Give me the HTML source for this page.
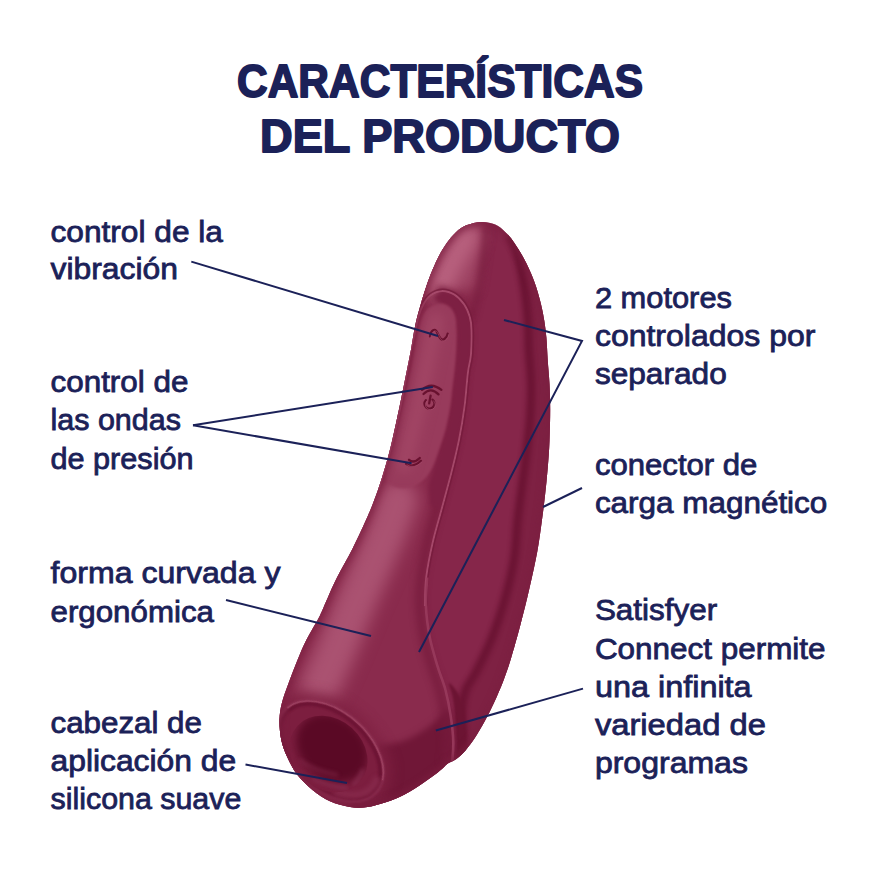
<!DOCTYPE html>
<html><head><meta charset="utf-8">
<style>
html,body{margin:0;padding:0;background:#fff;}
body{width:880px;height:880px;overflow:hidden;font-family:"Liberation Sans",sans-serif;}
svg{display:block;}
text{font-family:"Liberation Sans",sans-serif;fill:#1b2158;}
text.b{font-size:30px;stroke:#1b2158;stroke-width:0.8px;}
text.t{font-size:47px;font-weight:bold;stroke:#1b2158;stroke-width:1.8px;stroke-linejoin:round;}
.ln path{stroke:#1b2158;stroke-width:2;fill:none;}
</style></head>
<body>
<svg width="880" height="880" viewBox="0 0 880 880">
<defs>
<clipPath id="holeclip"><ellipse transform="translate(328.5,754) rotate(42)" rx="42" ry="35"/></clipPath>
<clipPath id="panelclip"><path d="M440.0,303.8 C443.7,303.6 447.5,305.4 450.0,307.5 C452.5,309.6 453.9,312.6 455.0,316.3 C456.1,320.1 456.1,324.4 456.3,330.0 C456.5,335.6 456.3,343.3 456.0,350.0 C455.7,356.7 455.1,363.3 454.4,370.0 C453.7,376.7 452.6,384.3 452.0,390.0 C451.4,395.7 451.5,397.8 450.5,404.0 C449.5,410.2 447.9,419.4 446.0,427.0 C444.1,434.6 441.5,442.3 439.0,449.5 C436.5,456.7 434.0,464.6 431.0,470.0 C428.0,475.4 425.0,479.0 421.0,482.0 C417.0,485.0 411.3,487.2 407.0,488.0 C402.7,488.8 398.3,488.2 395.0,487.0 C391.7,485.8 388.6,483.8 387.0,481.0 C385.4,478.2 385.2,474.3 385.7,470.0 C386.2,465.7 388.5,460.3 390.0,455.0 C391.5,449.7 393.3,443.7 394.8,438.0 C396.3,432.3 397.6,426.7 399.0,421.0 C400.4,415.3 402.0,409.7 403.3,404.0 C404.6,398.3 405.8,392.7 407.0,387.0 C408.2,381.3 409.5,375.8 410.7,370.0 C411.9,364.2 412.9,358.0 414.0,352.0 C415.1,346.0 416.2,339.5 417.5,334.0 C418.8,328.5 419.8,323.2 421.5,319.0 C423.2,314.8 424.9,311.0 428.0,308.5 C431.1,306.0 436.3,304.0 440.0,303.8Z"/></clipPath>
<clipPath id="ringin"><path d="M378.0,488.0 C379.3,483.7 383.3,471.3 386.0,462.0 C388.7,452.7 391.7,441.7 394.0,432.0 C396.3,422.3 398.2,413.1 400.0,404.0 C401.8,394.9 403.3,386.5 405.0,377.5 C406.7,368.5 408.5,357.5 410.0,350.0 C411.5,342.5 412.6,338.1 413.8,332.5 C415.1,326.9 416.1,321.1 417.5,316.3 C418.9,311.5 420.4,307.5 422.5,303.8 C424.6,300.1 426.7,296.7 430.0,294.4 C433.3,292.1 438.3,290.1 442.5,290.0 C446.7,289.9 451.2,291.5 455.0,293.8 C458.8,296.1 462.4,300.1 465.0,303.8 C467.6,307.6 469.4,311.9 470.6,316.3 C471.9,320.7 472.3,323.6 472.5,330.0 C472.7,336.4 472.5,347.9 471.9,355.0 C471.3,362.1 470.0,364.1 468.9,372.7 C467.8,381.3 467.0,395.4 465.5,406.8 C464.0,418.2 462.1,429.6 459.8,441.0 C457.5,452.4 454.7,463.7 451.8,475.0 C448.9,486.3 445.7,497.7 442.7,509.0 C439.7,520.3 436.2,531.6 433.6,543.0 C431.0,554.4 428.5,567.0 427.2,577.5 C425.9,588.0 426.1,601.2 425.9,606.0 L300,620Z"/></clipPath>
<clipPath id="ringout"><path clip-rule="evenodd" d="M0,0 H880 V880 H0Z M378.0,488.0 C379.3,483.7 383.3,471.3 386.0,462.0 C388.7,452.7 391.7,441.7 394.0,432.0 C396.3,422.3 398.2,413.1 400.0,404.0 C401.8,394.9 403.3,386.5 405.0,377.5 C406.7,368.5 408.5,357.5 410.0,350.0 C411.5,342.5 412.6,338.1 413.8,332.5 C415.1,326.9 416.1,321.1 417.5,316.3 C418.9,311.5 420.4,307.5 422.5,303.8 C424.6,300.1 426.7,296.7 430.0,294.4 C433.3,292.1 438.3,290.1 442.5,290.0 C446.7,289.9 451.2,291.5 455.0,293.8 C458.8,296.1 462.4,300.1 465.0,303.8 C467.6,307.6 469.4,311.9 470.6,316.3 C471.9,320.7 472.3,323.6 472.5,330.0 C472.7,336.4 472.5,347.9 471.9,355.0 C471.3,362.1 470.0,364.1 468.9,372.7 C467.8,381.3 467.0,395.4 465.5,406.8 C464.0,418.2 462.1,429.6 459.8,441.0 C457.5,452.4 454.7,463.7 451.8,475.0 C448.9,486.3 445.7,497.7 442.7,509.0 C439.7,520.3 436.2,531.6 433.6,543.0 C431.0,554.4 428.5,567.0 427.2,577.5 C425.9,588.0 426.1,601.2 425.9,606.0 L300,620Z"/></clipPath>
<clipPath id="bodyclip"><path d="M481.6,221.9 C486.4,221.8 491.2,222.8 495.2,224.5 C499.2,226.2 502.4,229.2 505.5,232.2 C508.6,235.2 511.2,238.4 514.0,242.4 C516.8,246.4 519.8,251.2 522.5,256.0 C525.2,260.8 527.9,266.3 530.2,271.4 C532.5,276.5 534.3,281.3 536.1,286.7 C537.9,292.1 539.5,298.1 540.9,303.8 C542.3,309.5 543.4,315.1 544.3,320.8 C545.2,326.5 545.8,331.3 546.4,337.8 C547.0,344.3 547.2,352.3 547.7,360.0 C548.2,367.7 549.1,375.8 549.5,384.0 C549.9,392.2 550.2,399.5 550.2,409.0 C550.2,418.5 549.9,431.1 549.5,441.0 C549.1,450.9 548.5,459.1 547.7,468.2 C547.0,477.3 546.0,486.4 545.0,495.5 C544.0,504.6 542.9,513.4 541.6,522.7 C540.3,532.0 539.3,540.5 537.3,551.4 C535.3,562.3 532.3,575.8 529.5,588.0 C526.7,600.2 523.6,612.8 520.5,624.5 C517.4,636.2 513.9,649.1 511.0,658.5 C508.1,667.9 506.2,673.3 503.4,680.7 C500.5,688.1 497.1,696.1 493.9,703.0 C490.7,709.9 487.5,716.2 484.3,722.0 C481.1,727.8 478.0,733.2 474.8,738.0 C471.6,742.8 468.4,747.1 465.2,750.7 C462.0,754.3 458.6,757.3 455.7,759.4 C452.8,761.5 449.7,762.0 447.7,763.4 C445.7,764.8 445.6,765.6 443.5,767.5 C441.4,769.4 439.1,771.5 435.0,774.5 C430.9,777.5 424.9,782.0 419.1,785.7 C413.3,789.4 405.7,794.0 400.0,796.8 C394.3,799.6 390.4,800.8 385.0,802.5 C379.6,804.2 373.3,806.2 367.5,807.0 C361.7,807.8 356.2,808.0 350.0,807.0 C343.8,806.0 336.2,804.1 330.0,801.3 C323.8,798.5 317.9,794.4 312.5,790.0 C307.1,785.6 301.7,780.4 297.5,775.0 C293.3,769.6 290.2,763.3 287.5,757.5 C284.8,751.7 282.6,746.2 281.3,740.0 C280.0,733.8 279.4,726.2 279.5,720.0 C279.6,713.8 280.4,708.8 282.0,702.5 C283.6,696.2 286.2,689.6 288.8,682.5 C291.4,675.4 294.6,667.1 297.5,660.0 C300.4,652.9 302.6,647.4 306.3,640.0 C310.1,632.6 316.9,621.5 320.0,615.4 C323.1,609.3 322.4,609.9 325.2,603.6 C328.0,597.3 332.4,586.6 337.0,577.5 C341.6,568.4 347.7,558.4 352.5,548.8 C357.3,539.2 362.5,527.8 366.0,520.0 C369.5,512.2 370.8,509.1 373.4,502.3 C376.0,495.6 378.8,487.8 381.4,479.5 C384.0,471.2 386.9,461.8 389.3,452.3 C391.8,442.8 394.0,432.2 396.1,422.7 C398.2,413.2 400.1,403.8 401.8,395.5 C403.5,387.2 404.9,380.3 406.4,372.7 C407.9,365.1 409.4,357.8 410.9,350.0 C412.3,342.2 413.7,332.8 415.1,325.9 C416.5,319.0 417.8,314.6 419.4,308.9 C421.0,303.2 422.6,297.5 424.5,291.8 C426.4,286.1 428.2,280.5 430.5,274.8 C432.8,269.1 435.4,263.0 438.1,257.7 C440.8,252.4 443.6,247.4 446.6,243.2 C449.6,238.9 452.7,235.2 456.0,232.2 C459.3,229.2 461.9,227.0 466.2,225.3 C470.5,223.6 476.8,222.0 481.6,221.9Z"/></clipPath>
<linearGradient id="gmain" x1="0" y1="0" x2="1" y2="0">
<stop offset="0" stop-color="#8c2b4c"/><stop offset="0.3" stop-color="#9a3b5b"/><stop offset="0.6" stop-color="#85254a"/><stop offset="1" stop-color="#74193a"/>
</linearGradient>
<radialGradient id="ghole" cx="0.5" cy="0.3" r="0.75">
<stop offset="0" stop-color="#5a0925"/><stop offset="0.55" stop-color="#640e2c"/><stop offset="1" stop-color="#7e2243"/>
</radialGradient>
<filter id="b8" filterUnits="userSpaceOnUse" x="-900" y="-900" width="2700" height="2700"><feGaussianBlur color-interpolation-filters="sRGB" stdDeviation="8"/></filter>
<filter id="b2" filterUnits="userSpaceOnUse" x="-900" y="-900" width="2700" height="2700"><feGaussianBlur color-interpolation-filters="sRGB" stdDeviation="2"/></filter>
<linearGradient id="gring" gradientUnits="userSpaceOnUse" x1="400" y1="400" x2="470" y2="412">
<stop offset="0" stop-color="#993d5d"/><stop offset="0.55" stop-color="#8c2e4f"/><stop offset="0.75" stop-color="#7c2042"/><stop offset="1" stop-color="#7a1e40"/>
</linearGradient>
<filter id="b4" filterUnits="userSpaceOnUse" x="-900" y="-900" width="2700" height="2700"><feGaussianBlur color-interpolation-filters="sRGB" stdDeviation="4"/></filter>
<filter id="b05" filterUnits="userSpaceOnUse" x="-900" y="-900" width="2700" height="2700"><feGaussianBlur color-interpolation-filters="sRGB" stdDeviation="0.6"/></filter>
<filter id="b6" filterUnits="userSpaceOnUse" x="-900" y="-900" width="2700" height="2700"><feGaussianBlur color-interpolation-filters="sRGB" stdDeviation="6"/></filter>
<filter id="b12" filterUnits="userSpaceOnUse" x="-900" y="-900" width="2700" height="2700"><feGaussianBlur color-interpolation-filters="sRGB" stdDeviation="12"/></filter>
<filter id="b3" filterUnits="userSpaceOnUse" x="-900" y="-900" width="2700" height="2700"><feGaussianBlur color-interpolation-filters="sRGB" stdDeviation="3"/></filter>
<filter id="b1" filterUnits="userSpaceOnUse" x="-900" y="-900" width="2700" height="2700"><feGaussianBlur color-interpolation-filters="sRGB" stdDeviation="1.2"/></filter>
</defs>
<!--BODY-->
<g clip-path="url(#bodyclip)">
<rect x="270" y="210" width="300" height="610" fill="#86264a"/>

<path d="M508.0,236.0 C509.0,238.3 512.2,244.4 514.0,250.0 C515.8,255.6 517.5,262.2 519.0,269.7 C520.5,277.2 522.1,286.7 523.3,295.2 C524.4,303.7 525.3,311.7 525.9,320.8 C526.5,329.9 526.3,339.5 526.8,350.0 C527.3,360.5 528.8,372.7 529.0,384.0 C529.2,395.3 528.8,406.7 528.0,418.0 C527.2,429.3 525.8,440.7 524.5,452.0 C523.2,463.3 521.5,474.6 520.0,486.0 C518.5,497.4 516.8,508.3 515.5,520.5 C514.2,532.7 514.1,546.0 512.0,559.0 C509.9,572.0 506.7,585.3 503.0,598.4 C499.3,611.5 494.8,625.4 490.0,637.6 C485.2,649.8 478.5,663.0 474.2,671.6 C469.9,680.2 466.4,682.9 464.0,689.0 C461.6,695.1 460.6,701.3 460.0,708.0 C459.4,714.7 460.3,722.8 460.5,729.0 C460.7,735.2 461.2,738.5 461.3,745.0 C461.4,751.5 461.1,764.2 461.0,768.0 L461,830 L600,830 L600,200 L508,200Z" fill="#7e2143"/>
<path d="M508.0,236.0 C509.0,238.3 512.2,244.4 514.0,250.0 C515.8,255.6 517.5,262.2 519.0,269.7 C520.5,277.2 522.1,286.7 523.3,295.2 C524.4,303.7 525.3,311.7 525.9,320.8 C526.5,329.9 526.3,339.5 526.8,350.0 C527.3,360.5 528.8,372.7 529.0,384.0 C529.2,395.3 528.8,406.7 528.0,418.0 C527.2,429.3 525.8,440.7 524.5,452.0 C523.2,463.3 521.5,474.6 520.0,486.0 C518.5,497.4 516.8,508.3 515.5,520.5 C514.2,532.7 514.1,546.0 512.0,559.0 C509.9,572.0 506.7,585.3 503.0,598.4 C499.3,611.5 494.8,625.4 490.0,637.6 C485.2,649.8 478.5,663.0 474.2,671.6 C469.9,680.2 466.4,682.9 464.0,689.0 C461.6,695.1 460.6,701.3 460.0,708.0 C459.4,714.7 460.3,722.8 460.5,729.0 C460.7,735.2 461.2,738.5 461.3,745.0 C461.4,751.5 461.1,764.2 461.0,768.0" fill="none" stroke="#6c1434" stroke-width="9" filter="url(#b2)" opacity="0.95" transform="translate(2,0)"/>
<path d="M442.5,290.0 C444.6,290.6 451.2,291.5 455.0,293.8 C458.8,296.1 462.4,300.1 465.0,303.8 C467.6,307.6 469.4,311.9 470.6,316.3 C471.9,320.7 472.3,323.6 472.5,330.0 C472.7,336.4 472.5,347.9 471.9,355.0 C471.3,362.1 470.0,364.1 468.9,372.7 C467.8,381.3 467.0,395.4 465.5,406.8 C464.0,418.2 462.1,429.6 459.8,441.0 C457.5,452.4 454.7,463.7 451.8,475.0 C448.9,486.3 445.7,497.7 442.7,509.0 C439.7,520.3 436.2,531.6 433.6,543.0 C431.0,554.4 428.5,567.0 427.2,577.5 C425.9,588.0 425.5,596.0 425.9,606.0 C426.3,616.0 427.9,627.5 429.8,637.6 C431.8,647.7 435.0,657.7 437.6,666.4 C440.2,675.1 443.3,681.7 445.5,690.0 C447.7,698.3 449.4,707.3 450.7,716.0 C452.0,724.7 453.1,733.8 453.3,742.0 C453.5,750.2 452.2,761.2 452.0,765.0 L452,830 L250,830 L250,200 L442.5,200Z" fill="#8a2b4d"/>
<path d="M442.0,290.0 L455.0,294.0 L465.0,304.0 L471.0,318.0 L476.0,296.0 L481.0,268.0 L486.0,240.0 L486.0,215.0 L425.0,215.0 L410.0,300.0 L425.0,300.0Z" fill="#8a2b4d" filter="url(#b3)"/>
<path d="M435,287 L476,290 L480,262 L484,231 L466,222 L445,240 L428,272 L420,300Z" fill="#9c4161" filter="url(#b6)"/>
<path d="M468.0,236.0 C465.3,240.3 456.7,253.3 452.0,262.0 C447.3,270.7 442.0,283.7 440.0,288.0" fill="none" stroke="#b9627f" stroke-width="24" stroke-linecap="round" filter="url(#b8)"/>
<path d="M486,226 C485,250 482,275 477,296 C475,305 473,312 472,318" fill="none" stroke="#741a3b" stroke-width="6" filter="url(#b3)" opacity="0.6"/>
<path d="M398.0,500.0 C396.2,505.0 391.3,519.2 387.0,530.0 C382.7,540.8 377.5,552.3 372.0,565.0 C366.5,577.7 360.0,591.8 354.0,606.0 C348.0,620.2 341.7,636.7 336.0,650.0 C330.3,663.3 322.7,680.0 320.0,686.0" fill="none" stroke="#aa5271" stroke-width="40" stroke-linecap="round" filter="url(#b8)"/>
<!-- bottom darkening -->
<path d="M370.0,745.0 C373.3,744.8 383.7,745.0 390.0,744.0 C396.3,743.0 401.8,741.7 408.0,739.0 C414.2,736.3 421.7,731.7 427.0,728.0 C432.3,724.3 436.3,720.7 440.0,717.0 C443.7,713.3 447.5,707.8 449.0,706.0 L452,720 L455,760 L455,830 L340,830Z" fill="#701737" filter="url(#b3)"/>
<path d="M449.0,683.0 C448.0,683.2 451.1,689.8 452.0,694.0 C452.9,698.2 453.9,702.2 454.5,708.0 C455.1,713.8 455.5,722.8 455.8,729.0 C456.1,735.2 456.4,738.2 456.5,745.0 C456.6,751.8 454.8,765.8 456.5,770.0 C458.2,774.2 464.8,774.2 466.5,770.0 C468.2,765.8 466.7,752.2 466.5,745.0 C466.3,737.8 466.0,733.2 465.5,727.0 C465.0,720.8 464.8,713.7 463.5,708.0 C462.2,702.3 460.4,697.2 458.0,693.0 C455.6,688.8 450.0,682.8 449.0,683.0Z" fill="#6c1433" filter="url(#b1)"/>
<path d="M442.5,290.0 C444.6,290.6 451.2,291.5 455.0,293.8 C458.8,296.1 462.4,300.1 465.0,303.8 C467.6,307.6 469.4,311.9 470.6,316.3 C471.9,320.7 472.3,323.6 472.5,330.0 C472.7,336.4 472.5,347.9 471.9,355.0 C471.3,362.1 470.0,364.1 468.9,372.7 C467.8,381.3 467.0,395.4 465.5,406.8 C464.0,418.2 462.1,429.6 459.8,441.0 C457.5,452.4 454.7,463.7 451.8,475.0 C448.9,486.3 445.7,497.7 442.7,509.0 C439.7,520.3 436.2,531.6 433.6,543.0 C431.0,554.4 428.5,567.0 427.2,577.5 C425.9,588.0 425.5,596.0 425.9,606.0 C426.3,616.0 427.9,627.5 429.8,637.6 C431.8,647.7 435.0,657.7 437.6,666.4 C440.2,675.1 443.3,681.7 445.5,690.0 C447.7,698.3 449.4,707.3 450.7,716.0 C452.0,724.7 453.1,733.8 453.3,742.0 C453.5,750.2 452.2,761.2 452.0,765.0" fill="none" stroke="#761b3c" stroke-width="10" filter="url(#b3)" transform="translate(-6,0)" opacity="0.7"/>
<path d="M442.5,290.0 L455.0,293.8 L465.0,303.8 L470.6,316.3 L472.5,330.0 L471.9,355.0 L468.9,372.7 L465.5,406.8 L459.8,441.0 L451.8,475.0 L442.7,509.0 L430.0,506.0 L428.0,486.0 L434.0,466.0 L439.0,449.5 L446.0,427.0 L450.5,404.0 L454.4,370.0 L456.0,350.0 L456.3,330.0 L455.0,316.3 L450.0,307.5 L440.0,303.8 L432.0,298.0Z" fill="#7d2043" filter="url(#b2)"/>
<path d="M440.0,303.8 C443.7,303.6 447.5,305.4 450.0,307.5 C452.5,309.6 453.9,312.6 455.0,316.3 C456.1,320.1 456.1,324.4 456.3,330.0 C456.5,335.6 456.3,343.3 456.0,350.0 C455.7,356.7 455.1,363.3 454.4,370.0 C453.7,376.7 452.6,384.3 452.0,390.0 C451.4,395.7 451.5,397.8 450.5,404.0 C449.5,410.2 447.9,419.4 446.0,427.0 C444.1,434.6 441.5,442.3 439.0,449.5 C436.5,456.7 434.0,464.6 431.0,470.0 C428.0,475.4 425.0,479.0 421.0,482.0 C417.0,485.0 411.3,487.2 407.0,488.0 C402.7,488.8 398.3,488.2 395.0,487.0 C391.7,485.8 388.6,483.8 387.0,481.0 C385.4,478.2 385.2,474.3 385.7,470.0 C386.2,465.7 388.5,460.3 390.0,455.0 C391.5,449.7 393.3,443.7 394.8,438.0 C396.3,432.3 397.6,426.7 399.0,421.0 C400.4,415.3 402.0,409.7 403.3,404.0 C404.6,398.3 405.8,392.7 407.0,387.0 C408.2,381.3 409.5,375.8 410.7,370.0 C411.9,364.2 412.9,358.0 414.0,352.0 C415.1,346.0 416.2,339.5 417.5,334.0 C418.8,328.5 419.8,323.2 421.5,319.0 C423.2,314.8 424.9,311.0 428.0,308.5 C431.1,306.0 436.3,304.0 440.0,303.8Z" fill="#983b5c" filter="url(#b1)"/>
<path d="M436,320 L428,360 L418,410 L404,465" fill="none" stroke="#a24665" stroke-width="14" stroke-linecap="round" filter="url(#b6)" clip-path="url(#panelclip)"/>
<g fill="none" stroke="#660f2d" stroke-width="2.3" stroke-linecap="round" opacity="0.95">
 <path d="M430,336.4 C431,330 435,327.5 437.2,332.5 C439,337 441.5,341.5 444.5,339 C446.5,337.5 447.5,335.5 447.7,333.6"/>
 <path d="M422,389.9 Q431,381.5 441.4,389.9"/><path d="M423.5,394 Q431,386.5 438.5,394.4"/>
 <path d="M432.5,399.6 A5,5 0 1 1 425.8,400.2"/><path d="M430.6,395.6 L429.2,403.4"/>
 <path d="M406.1,463.8 Q413,468.5 420.9,460.9"/><path d="M409,459.8 Q413.5,464 419.8,458"/>
</g>
<g fill="none" stroke="#b25a79" stroke-width="0.9" stroke-linecap="round" opacity="0.6" transform="translate(0.9,1.1)">
 <path d="M430,336.4 C431,330 435,327.5 437.2,332.5 C439,337 441.5,341.5 444.5,339 C446.5,337.5 447.5,335.5 447.7,333.6"/>
 <path d="M432.5,399.6 A5,5 0 1 1 425.8,400.2"/>
 <path d="M406.1,463.8 Q413,468.5 420.9,460.9"/>
</g>
<path d="M378.0,488.0 C379.3,483.7 383.3,471.3 386.0,462.0 C388.7,452.7 391.7,441.7 394.0,432.0 C396.3,422.3 398.2,413.1 400.0,404.0 C401.8,394.9 403.3,386.5 405.0,377.5 C406.7,368.5 408.5,357.5 410.0,350.0 C411.5,342.5 412.6,338.1 413.8,332.5 C415.1,326.9 416.1,321.1 417.5,316.3 C418.9,311.5 420.4,307.5 422.5,303.8 C424.6,300.1 426.7,296.7 430.0,294.4 C433.3,292.1 438.3,290.1 442.5,290.0 C446.7,289.9 451.2,291.5 455.0,293.8 C458.8,296.1 462.4,300.1 465.0,303.8 C467.6,307.6 469.4,311.9 470.6,316.3 C471.9,320.7 472.3,323.6 472.5,330.0 C472.7,336.4 472.5,347.9 471.9,355.0 C471.3,362.1 470.0,364.1 468.9,372.7 C467.8,381.3 467.0,395.4 465.5,406.8 C464.0,418.2 462.1,429.6 459.8,441.0 C457.5,452.4 454.7,463.7 451.8,475.0 C448.9,486.3 445.7,497.7 442.7,509.0 C439.7,520.3 436.2,531.6 433.6,543.0 C431.0,554.4 428.5,567.0 427.2,577.5 C425.9,588.0 426.1,601.2 425.9,606.0" fill="none" stroke="#a84d6e" stroke-width="3.8" opacity="0.9" clip-path="url(#ringin)"/>
<path d="M378.0,488.0 C379.3,483.7 383.3,471.3 386.0,462.0 C388.7,452.7 391.7,441.7 394.0,432.0 C396.3,422.3 398.2,413.1 400.0,404.0 C401.8,394.9 403.3,386.5 405.0,377.5 C406.7,368.5 408.5,357.5 410.0,350.0 C411.5,342.5 412.6,338.1 413.8,332.5 C415.1,326.9 416.1,321.1 417.5,316.3 C418.9,311.5 420.4,307.5 422.5,303.8 C424.6,300.1 426.7,296.7 430.0,294.4 C433.3,292.1 438.3,290.1 442.5,290.0 C446.7,289.9 451.2,291.5 455.0,293.8 C458.8,296.1 462.4,300.1 465.0,303.8 C467.6,307.6 469.4,311.9 470.6,316.3 C471.9,320.7 472.3,323.6 472.5,330.0 C472.7,336.4 472.5,347.9 471.9,355.0 C471.3,362.1 470.0,364.1 468.9,372.7 C467.8,381.3 467.0,395.4 465.5,406.8 C464.0,418.2 462.1,429.6 459.8,441.0 C457.5,452.4 454.7,463.7 451.8,475.0 C448.9,486.3 445.7,497.7 442.7,509.0 C439.7,520.3 436.2,531.6 433.6,543.0 C431.0,554.4 428.5,567.0 427.2,577.5 C425.9,588.0 426.1,601.2 425.9,606.0" fill="none" stroke="#741a3b" stroke-width="3" opacity="0.7" clip-path="url(#ringout)"/>
<path d="M427.2,577.5 C427.0,582.2 425.5,596.0 425.9,606.0 C426.3,616.0 427.9,627.5 429.8,637.6 C431.8,647.7 435.0,657.7 437.6,666.4 C440.2,675.1 443.3,681.7 445.5,690.0 C447.7,698.3 449.4,707.3 450.7,716.0 C452.0,724.7 453.1,733.8 453.3,742.0 C453.5,750.2 452.2,761.2 452.0,765.0" fill="none" stroke="#9a3d5f" stroke-width="2.6" opacity="0.85" filter="url(#b05)"/>
<!-- front rim + hole -->
<g transform="translate(330.7,751) rotate(42)">
  <ellipse rx="70" ry="48" fill="#7f2142" filter="url(#b6)" opacity="0.8"/>
  <ellipse rx="62" ry="40" fill="#7c1e3f"/>
  <ellipse rx="61.5" ry="39.5" fill="none" stroke="#93375a" stroke-width="1.6" filter="url(#b1)"/>
  <ellipse rx="58.5" ry="36.5" fill="none" stroke="#6f1636" stroke-width="2.5" filter="url(#b1)" opacity="0.8"/>
  <path d="M-61,-3 A61.5,39.5 0 0 1 58,-13" fill="none" stroke="#a44968" stroke-width="1.8" filter="url(#b05)" opacity="0.9"/>
  <path d="M-58,-3 A58.5,36.5 0 0 1 55,-12" fill="none" stroke="#691232" stroke-width="2.6" filter="url(#b1)" opacity="0.85"/>
  <path d="M52,-12 A54,34 0 0 1 30,28" fill="none" stroke="#882b4d" stroke-width="7" filter="url(#b2)" opacity="0.8"/>
</g>
<g clip-path="url(#holeclip)">
  <rect x="270" y="690" width="130" height="130" fill="#7c1e3f"/>
  <ellipse cx="332" cy="748" rx="39" ry="31" fill="#5a0925" filter="url(#b4)" transform="rotate(40 332 748)"/>
  <path d="M299,760 Q315,771 338,775" fill="none" stroke="#8a3051" stroke-width="3" filter="url(#b2)" opacity="0.6"/>
  <path d="M312,779 Q330,786 348,788" fill="none" stroke="#90375a" stroke-width="3" filter="url(#b2)" opacity="0.7"/>
  <path d="M353,785 Q360,778 363,769" fill="none" stroke="#90375a" stroke-width="3" filter="url(#b2)" opacity="0.7"/>
</g>
<!-- edge darkening -->
<path d="M481.6,221.9 C486.4,221.8 491.2,222.8 495.2,224.5 C499.2,226.2 502.4,229.2 505.5,232.2 C508.6,235.2 511.2,238.4 514.0,242.4 C516.8,246.4 519.8,251.2 522.5,256.0 C525.2,260.8 527.9,266.3 530.2,271.4 C532.5,276.5 534.3,281.3 536.1,286.7 C537.9,292.1 539.5,298.1 540.9,303.8 C542.3,309.5 543.4,315.1 544.3,320.8 C545.2,326.5 545.8,331.3 546.4,337.8 C547.0,344.3 547.2,352.3 547.7,360.0 C548.2,367.7 549.1,375.8 549.5,384.0 C549.9,392.2 550.2,399.5 550.2,409.0 C550.2,418.5 549.9,431.1 549.5,441.0 C549.1,450.9 548.5,459.1 547.7,468.2 C547.0,477.3 546.0,486.4 545.0,495.5 C544.0,504.6 542.9,513.4 541.6,522.7 C540.3,532.0 539.3,540.5 537.3,551.4 C535.3,562.3 532.3,575.8 529.5,588.0 C526.7,600.2 523.6,612.8 520.5,624.5 C517.4,636.2 513.9,649.1 511.0,658.5 C508.1,667.9 506.2,673.3 503.4,680.7 C500.5,688.1 497.1,696.1 493.9,703.0 C490.7,709.9 487.5,716.2 484.3,722.0 C481.1,727.8 478.0,733.2 474.8,738.0 C471.6,742.8 468.4,747.1 465.2,750.7 C462.0,754.3 458.6,757.3 455.7,759.4 C452.8,761.5 449.7,762.0 447.7,763.4 C445.7,764.8 445.6,765.6 443.5,767.5 C441.4,769.4 439.1,771.5 435.0,774.5 C430.9,777.5 424.9,782.0 419.1,785.7 C413.3,789.4 405.7,794.0 400.0,796.8 C394.3,799.6 390.4,800.8 385.0,802.5 C379.6,804.2 373.3,806.2 367.5,807.0 C361.7,807.8 356.2,808.0 350.0,807.0 C343.8,806.0 336.2,804.1 330.0,801.3 C323.8,798.5 317.9,794.4 312.5,790.0 C307.1,785.6 301.7,780.4 297.5,775.0 C293.3,769.6 290.2,763.3 287.5,757.5 C284.8,751.7 282.6,746.2 281.3,740.0 C280.0,733.8 279.4,726.2 279.5,720.0 C279.6,713.8 280.4,708.8 282.0,702.5 C283.6,696.2 286.2,689.6 288.8,682.5 C291.4,675.4 294.6,667.1 297.5,660.0 C300.4,652.9 302.6,647.4 306.3,640.0 C310.1,632.6 316.9,621.5 320.0,615.4 C323.1,609.3 322.4,609.9 325.2,603.6 C328.0,597.3 332.4,586.6 337.0,577.5 C341.6,568.4 347.7,558.4 352.5,548.8 C357.3,539.2 362.5,527.8 366.0,520.0 C369.5,512.2 370.8,509.1 373.4,502.3 C376.0,495.6 378.8,487.8 381.4,479.5 C384.0,471.2 386.9,461.8 389.3,452.3 C391.8,442.8 394.0,432.2 396.1,422.7 C398.2,413.2 400.1,403.8 401.8,395.5 C403.5,387.2 404.9,380.3 406.4,372.7 C407.9,365.1 409.4,357.8 410.9,350.0 C412.3,342.2 413.7,332.8 415.1,325.9 C416.5,319.0 417.8,314.6 419.4,308.9 C421.0,303.2 422.6,297.5 424.5,291.8 C426.4,286.1 428.2,280.5 430.5,274.8 C432.8,269.1 435.4,263.0 438.1,257.7 C440.8,252.4 443.6,247.4 446.6,243.2 C449.6,238.9 452.7,235.2 456.0,232.2 C459.3,229.2 461.9,227.0 466.2,225.3 C470.5,223.6 476.8,222.0 481.6,221.9Z" fill="none" stroke="#7b1f40" stroke-width="7" filter="url(#b3)" opacity="0.7"/>

</g>
<!--/BODY-->
<g class="ln">
<path d="M191.3,261.6 L438,336"/>
<path d="M193,425.3 L432.8,387"/>
<path d="M193,425.3 L411.6,463.2"/>
<path d="M226,600 L371,636"/>
<path d="M245.5,764.5 L347,783"/>
<path d="M504,320 L582,341 L419,652"/>
<path d="M543,507 L582,488"/>
<path d="M435.8,730.5 L583,688.6"/>
</g>
<text id="s0" class="t" transform="translate(237.00,97.30) scale(0.9040,1)">CARACTERÍSTICAS</text>
<text id="s1" class="t" transform="translate(260.00,151.80) scale(0.9618,1)">DEL PRODUCTO</text>
<text id="s2" class="b" transform="translate(50.50,241.60) scale(1.0554,1)">control de la</text>
<text id="s3" class="b" transform="translate(50.50,279.10) scale(1.0619,1)">vibración</text>
<text id="s4" class="b" transform="translate(50.50,391.60) scale(1.0474,1)">control de</text>
<text id="s5" class="b" transform="translate(50.50,430.00) scale(1.0161,1)">las ondas</text>
<text id="s6" class="b" transform="translate(50.50,468.70) scale(1.0213,1)">de presión</text>
<text id="s7" class="b" transform="translate(50.50,583.30) scale(1.0698,1)">forma curvada y</text>
<text id="s8" class="b" transform="translate(50.50,621.80) scale(1.0430,1)">ergonómica</text>
<text id="s9" class="b" transform="translate(50.50,733.30) scale(1.0440,1)">cabezal de</text>
<text id="s10" class="b" transform="translate(50.50,771.20) scale(1.0610,1)">aplicación de</text>
<text id="s11" class="b" transform="translate(50.50,809.30) scale(1.0131,1)">silicona suave</text>
<text id="s12" class="b" transform="translate(594.90,307.70) scale(1.0278,1)">2 motores</text>
<text id="s13" class="b" transform="translate(594.90,346.00) scale(1.0667,1)">controlados por</text>
<text id="s14" class="b" transform="translate(594.90,384.40) scale(1.0543,1)">separado</text>
<text id="s15" class="b" transform="translate(594.90,474.80) scale(1.0371,1)">conector de</text>
<text id="s16" class="b" transform="translate(594.90,513.00) scale(1.0483,1)">carga magnético</text>
<text id="s17" class="b" transform="translate(594.90,620.30) scale(1.0487,1)">Satisfyer</text>
<text id="s18" class="b" transform="translate(594.90,658.90) scale(1.0486,1)">Connect permite</text>
<text id="s19" class="b" transform="translate(594.90,697.00) scale(1.0806,1)">una infinita</text>
<text id="s20" class="b" transform="translate(594.90,734.90) scale(1.0912,1)">variedad de</text>
<text id="s21" class="b" transform="translate(594.90,773.00) scale(1.0676,1)">programas</text>
</svg>
</body></html>
